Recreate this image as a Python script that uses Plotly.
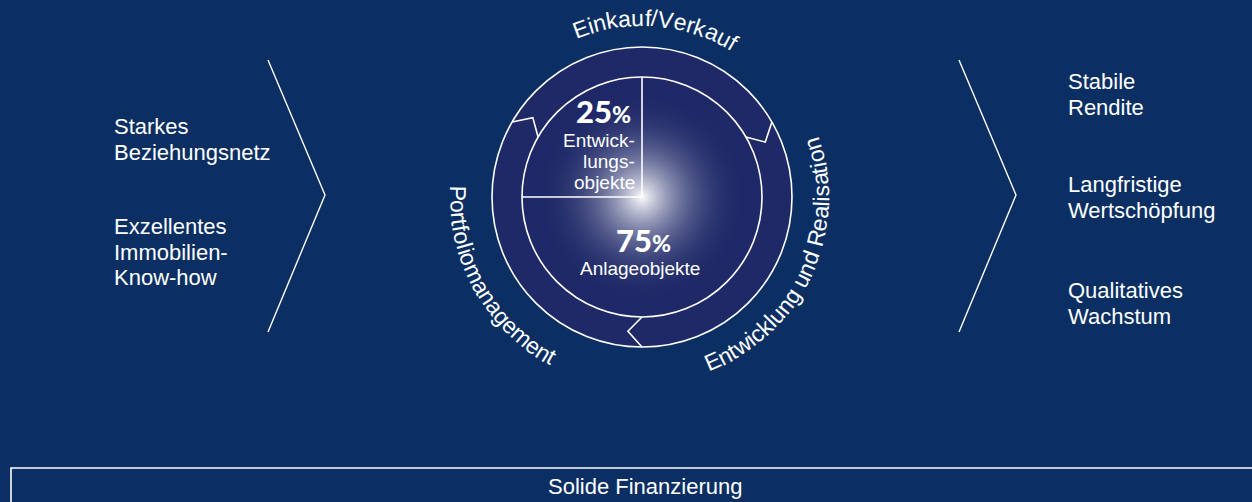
import math
import plotly.graph_objects as go

# ---------------- data ----------------
left_items = [["Starkes", "Beziehungsnetz"], ["Exzellentes", "Immobilien-", "Know-how"]]
right_items = [["Stabile", "Rendite"], ["Langfristige", "Wertschöpfung"], ["Qualitatives", "Wachstum"]]
stages = ["Einkauf/Verkauf", "Entwicklung und Realisation", "Portfoliomanagement"]
share_values = [25, 75]
share_labels = [["Entwick-", "lungs-", "objekte"], ["Anlageobjekte"]]
base_label = "Solide Finanzierung"

# ---------------- style / layout ----------------
W, H = 1252, 502
BG = "#0b2f62"
BAND = "#1f2968"
WHITE = "#ffffff"
FONT = "Liberation Sans, Arial, sans-serif"
CX, CY = 642, 197
R_OUT, R_IN = 150, 120

CW = {"E": 667, "i": 222, "n": 556, "k": 500, "a": 556, "u": 556, "f": 278, "/": 278,
      "V": 667, "e": 556, "r": 333, "P": 667, "o": 556, "t": 278, "l": 222, "m": 833,
      "g": 556, "w": 722, "c": 500, "d": 556, " ": 278, "R": 722, "s": 500}

def px(r, deg):
    t = math.radians(deg)
    return CX + r * math.cos(t), CY - r * math.sin(t)

def norm(a):
    while a > 180:
        a -= 360
    while a <= -180:
        a += 360
    return a

def arc_text(text, R, theta_c, fs, outward):
    widths = [CW.get(ch, 556) * fs / 1000 for ch in text]
    L = sum(widths)
    out = []
    s = 0.0
    for ch, w in zip(text, widths):
        mid = s + w / 2
        s += w
        if ch == " ":
            continue
        if outward:
            th = math.radians(theta_c) + (L / 2 - mid) / R
            r = R + 0.35 * fs
            ang = 90 - math.degrees(th)
        else:
            th = math.radians(theta_c) - (L / 2 - mid) / R
            r = R - 0.35 * fs
            ang = -(math.degrees(th) + 90)
        x = CX + r * math.cos(th)
        y = CY - r * math.sin(th)
        out.append(dict(x=x, y=y, text=ch, textangle=norm(ang), showarrow=False,
                        xanchor="center", yanchor="middle",
                        font=dict(family=FONT, size=fs, color=WHITE)))
    return out

shapes = []
# outer band
shapes.append(dict(type="circle", x0=CX - R_OUT, x1=CX + R_OUT, y0=CY - R_OUT, y1=CY + R_OUT,
                   fillcolor=BAND, line=dict(color=WHITE, width=1.6)))
# radial glow inside inner disk
band_rgb = (31, 41, 104)
N = 70
for i in range(N):
    r = R_IN * (1 - i / N)
    f = max(0.0, 1 - r / 108) ** 2.3
    c = tuple(int(round(b + (255 - b) * f)) for b in band_rgb)
    shapes.append(dict(type="circle", x0=CX - r, x1=CX + r, y0=CY - r, y1=CY + r,
                       fillcolor="rgb(%d,%d,%d)" % c, line=dict(width=0)))
shapes.append(dict(type="circle", x0=CX - R_IN, x1=CX + R_IN, y0=CY - R_IN, y1=CY + R_IN,
                   line=dict(color=WHITE, width=1.6)))
# pie division derived from shares: first share sector starts at 90deg and goes ccw
start = 90
end = 90 + share_values[0] / sum(share_values) * 360
for a in (start, end):
    x, y = px(R_IN, a)
    shapes.append(dict(type="line", x0=CX, y0=CY, x1=x, y1=y, line=dict(color=WHITE, width=1.6)))

# arrow notches between stages (clockwise flow)
for base in (150, 30, -90):
    p1 = px(R_OUT, base)
    p2 = px((R_OUT + R_IN) / 2, base - 6)
    p3 = px(R_IN, base)
    shapes.append(dict(type="path",
                       path="M %.1f %.1f L %.1f %.1f L %.1f %.1f" % (p1 + p2 + p3),
                       line=dict(color=WHITE, width=1.6)))

# side chevrons
for x0, x1 in ((268, 325), (959, 1016)):
    shapes.append(dict(type="path", path="M %d 60 L %d 195 L %d 332" % (x0, x1, x0),
                       line=dict(color=WHITE, width=1.4)))
# bottom box
shapes.append(dict(type="rect", x0=11, y0=468, x1=W + 10, y1=H + 10,
                   line=dict(color=WHITE, width=1.6)))

anns = []
def lab(x, y, t, size=22, xa="left", weight=None, family=FONT):
    f = dict(family=family, size=size, color=WHITE)
    if weight:
        f["weight"] = weight
    anns.append(dict(x=x, y=y, text=t, showarrow=False, xanchor=xa, yanchor="middle", font=f))

left_y = [[126, 152], [226, 252, 277]]
for item, ys in zip(left_items, left_y):
    for t, y in zip(item, ys):
        lab(112, y, t)
right_y = [[81, 107], [184, 210], [290, 316]]
for item, ys in zip(right_items, right_y):
    for t, y in zip(item, ys):
        lab(1066, y, t)

# stage labels on arcs
anns += arc_text(stages[0], 171, 85.5, 23, True)
anns += arc_text(stages[1], 187, -25, 23, False)
anns += arc_text(stages[2], 192, 209, 23, False)

# shares
BOLD = "Lato, Roboto, sans-serif"
lab(633, 111, "%d<span style='font-size:23px'>%%</span>" % share_values[0], size=31, xa="right", weight=900, family=BOLD)
for t, y in zip(share_labels[0], [140, 161.5, 182.5]):
    lab(637, y, t, size=19, xa="right")
lab(643, 240, "%d<span style='font-size:23px'>%%</span>" % share_values[1], size=31, xa="center", weight=900, family=BOLD)
lab(640, 268, share_labels[1][0], size=19, xa="center")

lab(645, 486, base_label, size=22, xa="center")

fig = go.Figure()
fig.add_trace(go.Scatter(x=[0], y=[0], mode="markers", marker=dict(opacity=0), hoverinfo="skip", showlegend=False))
fig.update_layout(
    width=W, height=H, margin=dict(l=0, r=0, t=0, b=0),
    paper_bgcolor=BG, plot_bgcolor=BG,
    xaxis=dict(range=[0, W], visible=False, fixedrange=True),
    yaxis=dict(range=[H, 0], visible=False, fixedrange=True),
    shapes=shapes, annotations=anns, showlegend=False,
)
fig.write_html("out.html", config={"displayModeBar": False},
               post_script="document.body.style.margin='0';document.body.style.overflow='hidden';document.body.style.background='%s';" % BG)
